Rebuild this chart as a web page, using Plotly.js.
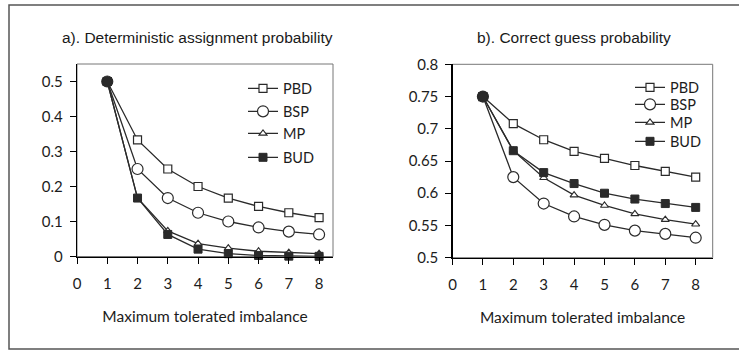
<!DOCTYPE html>
<html>
<head>
<meta charset="utf-8">
<script src="https://cdn.plot.ly/plotly-3.0.1.min.js"></script>
<style>
html,body{margin:0;padding:0;background:#fff;}
#chart{width:739px;height:352px;}
</style>
</head>
<body>
<div id="chart"></div>
<script>
// ---- data ----
const imbalance = [1, 2, 3, 4, 5, 6, 7, 8];
const seriesNames = ["PBD", "BSP", "MP", "BUD"];

// a) Deterministic assignment probability
const detPBD = [0.5, 0.333, 0.25, 0.2, 0.167, 0.143, 0.125, 0.111];
const detBSP = [0.5, 0.25, 0.167, 0.125, 0.1, 0.083, 0.071, 0.063];
const detMP  = [0.5, 0.167, 0.073, 0.037, 0.024, 0.015, 0.011, 0.008];
const detBUD = [0.5, 0.167, 0.063, 0.021, 0.008, 0.003, 0.001, 0.0005];

// b) Correct guess probability
const cgPBD = [0.75, 0.708, 0.683, 0.665, 0.654, 0.643, 0.634, 0.625];
const cgBSP = [0.75, 0.625, 0.584, 0.564, 0.551, 0.542, 0.537, 0.531];
const cgMP  = [0.75, 0.666, 0.624, 0.597, 0.581, 0.568, 0.559, 0.552];
const cgBUD = [0.75, 0.666, 0.632, 0.615, 0.600, 0.591, 0.584, 0.578];

const xTickVals = [0, 1, 2, 3, 4, 5, 6, 7, 8];
const yTickValsA = [0, 0.1, 0.2, 0.3, 0.4, 0.5];
const yTickTextA = ["0", "0.1", "0.2", "0.3", "0.4", "0.5"];
const yTickValsB = [0.5, 0.55, 0.6, 0.65, 0.7, 0.75, 0.8];
const yTickTextB = ["0.5", "0.55", "0.6", "0.65", "0.7", "0.75", "0.8"];

const titleA = "a). Deterministic assignment probability";
const titleB = "b). Correct guess probability";
const xTitle = "Maximum tolerated imbalance";

// ---- styles ----
const LINE = "#2a2a2a";
const FONT = "Lato, 'Open Sans', sans-serif";
const tickFont = {family: FONT, size: 15, color: "#1c1c1c"};

// reversed point order so the legend shows the open symbol (first point)
function rev(a) { return a.slice().reverse(); }

function mk(name, ys, xa, ya, leg) {
  let marker;
  const xs = rev(imbalance);
  if (name === "BSP") {
    marker = {symbol: "circle", size: 11,
      color: xs.map(v => v === 1 ? LINE : "#ffffff"),
      line: {color: LINE, width: 1.2}};
  } else if (name === "PBD") {
    marker = {symbol: "square", size: 8, color: "#ffffff", line: {color: LINE, width: 1.2}};
  } else if (name === "MP") {
    marker = {symbol: "triangle-up", size: 7, color: "#ffffff", line: {color: LINE, width: 1.1}};
  } else {
    marker = {symbol: "square", size: 8, color: LINE, line: {color: LINE, width: 1}};
  }
  return {
    x: xs, y: rev(ys), name: name, type: "scatter", mode: "lines+markers",
    xaxis: xa, yaxis: ya, legend: leg,
    line: {color: LINE, width: 1.3}, marker: marker, cliponaxis: false
  };
}

const traces = [
  mk("PBD", detPBD, "x", "y", "legend"),
  mk("BSP", detBSP, "x", "y", "legend2"),
  mk("MP",  detMP,  "x", "y", "legend3"),
  mk("BUD", detBUD, "x", "y", "legend4"),
  mk("PBD", cgPBD, "x2", "y2", "legend5"),
  mk("BSP", cgBSP, "x2", "y2", "legend6"),
  mk("MP",  cgMP,  "x2", "y2", "legend7"),
  mk("BUD", cgBUD, "x2", "y2", "legend8")
];

const W = 739, H = 352;
const px = v => v / W;
const py = v => 1 - v / H;

function xaxisDef(domain, range) {
  return {
    domain: domain, range: range, tickvals: xTickVals, ticktext: xTickVals.map(String),
    showgrid: false, zeroline: false, showline: true, linecolor: "#000", linewidth: 1.2,
    ticks: "outside", ticklen: 6, tickcolor: "#000", tickwidth: 1,
    tickfont: tickFont, ticklabelstandoff: 7,
    title: {text: xTitle, font: {family: FONT, size: 15.5, color: "#1c1c1c"}, standoff: 20},
    fixedrange: true
  };
}
function yaxisDef(domain, range, tv, tt, anchor) {
  return {
    domain: domain, range: range, tickvals: tv, ticktext: tt, anchor: anchor,
    showgrid: false, zeroline: false, showline: true, linecolor: "#000", linewidth: 1.2,
    ticks: "outside", ticklen: 6, tickcolor: "#000", tickwidth: 1,
    tickfont: tickFont, ticklabelstandoff: 4, fixedrange: true
  };
}

function legendAt(xLeft, yCenter) {
  return {
    x: px(xLeft), y: py(yCenter - 15.6), xanchor: "left", yanchor: "top",
    bgcolor: "rgba(0,0,0,0)", borderwidth: 0,
    font: {family: FONT, size: 14.5, color: "#1c1c1c"}, itemwidth: 30
  };
}

const layout = {
  width: W, height: H,
  margin: {l: 0, r: 0, t: 0, b: 0},
  paper_bgcolor: "#fff", plot_bgcolor: "#fff",
  showlegend: true,
  xaxis: xaxisDef([px(77), px(333)], [0, 8.46]),
  yaxis: yaxisDef([py(256.5), py(64)], [0, 0.55], yTickValsA, yTickTextA, "x"),
  xaxis2: Object.assign(xaxisDef([px(452.5), px(712.7)], [0, 8.56]), {anchor: "y2"}),
  yaxis2: yaxisDef([py(257.7), py(64.3)], [0.5, 0.8], yTickValsB, yTickTextB, "x2"),
  legend:  legendAt(243, 88),
  legend2: legendAt(243, 111),
  legend3: legendAt(243, 133),
  legend4: legendAt(243, 157),
  legend5: legendAt(630, 87),
  legend6: legendAt(630, 104),
  legend7: legendAt(630, 122),
  legend8: legendAt(630, 141),
  annotations: [
    {text: titleA, xref: "paper", yref: "paper", x: px(197), y: py(37), xanchor: "center", yanchor: "middle",
     showarrow: false, font: {family: "'Liberation Sans', Arial, sans-serif", size: 15.5, color: "#1a1a1a"}},
    {text: titleB, xref: "paper", yref: "paper", x: px(574), y: py(37), xanchor: "center", yanchor: "middle",
     showarrow: false, font: {family: "'Liberation Sans', Arial, sans-serif", size: 15.5, color: "#1a1a1a"}}
  ],
  shapes: [
    {type: "rect", xref: "paper", yref: "paper", x0: px(9), x1: 1.02, y0: py(349), y1: py(5),
     line: {color: "#555", width: 1.5}, fillcolor: "rgba(0,0,0,0)", layer: "below"},
    {type: "rect", xref: "x domain", yref: "y domain", x0: 0, x1: 1, y0: 0, y1: 1,
     line: {color: "#777", width: 1}, layer: "below"},
    {type: "rect", xref: "x2 domain", yref: "y2 domain", x0: 0, x1: 1, y0: 0, y1: 1,
     line: {color: "#777", width: 1}, layer: "below"}
  ]
};

Plotly.newPlot("chart", traces, layout, {displayModeBar: false, staticPlot: true});
</script>
</body>
</html>
